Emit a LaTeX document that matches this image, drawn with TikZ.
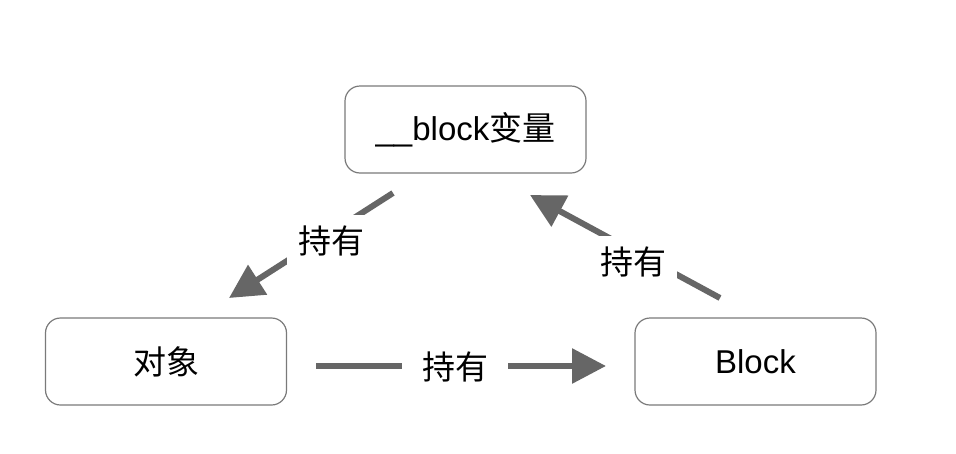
\documentclass[tikz,border=0pt]{standalone}
\usepackage{fontspec}
\setmainfont{Liberation Sans}
\newfontfamily\cjk{Noto Sans CJK SC}
\usetikzlibrary{arrows.meta}
\definecolor{arrowgray}{HTML}{666666}
\definecolor{boxgray}{HTML}{7A7A7A}
\tikzset{
  box/.style={draw=boxgray, line width=1.2pt, rounded corners=15pt, minimum width=241pt, minimum height=87pt, inner sep=0pt, font=\fontsize{33}{39}\selectfont},
  hold/.style={draw=arrowgray, line width=6pt, -{Triangle[length=34pt,width=34pt]}},
  lbl/.style={fill=white, inner sep=11pt, font=\fontsize{33}{39}\selectfont\cjk},
}
\begin{document}
\begin{tikzpicture}[x=1pt,y=-1pt]
\useasboundingbox (0,0) rectangle (956,453);
\node[box] (var) at (465.5,129.5) {\_\_block{\cjk 变量}};
\node[box] (obj) at (166,361.5) {\cjk 对象};
\node[box] (blk) at (755.5,361.5) {Block};
\coordinate (a1s) at (393,193);
\coordinate (a1e) at (229,298);
\coordinate (a2s) at (720,298);
\coordinate (a2e) at (530,195);
\coordinate (a3s) at (316,366);
\coordinate (a3e) at (606,366);
\draw[hold] (a1s) -- (a1e);
\draw[hold] (a2s) -- (a2e);
\draw[hold] (a3s) -- (a3e);
\node[lbl] (l1) at (331,241) {持有};
\node[lbl] (l2) at (633,262) {持有};
\node[lbl, inner xsep=20pt, inner ysep=8pt] (l3) at (455,367) {持有};
\end{tikzpicture}
\end{document}
